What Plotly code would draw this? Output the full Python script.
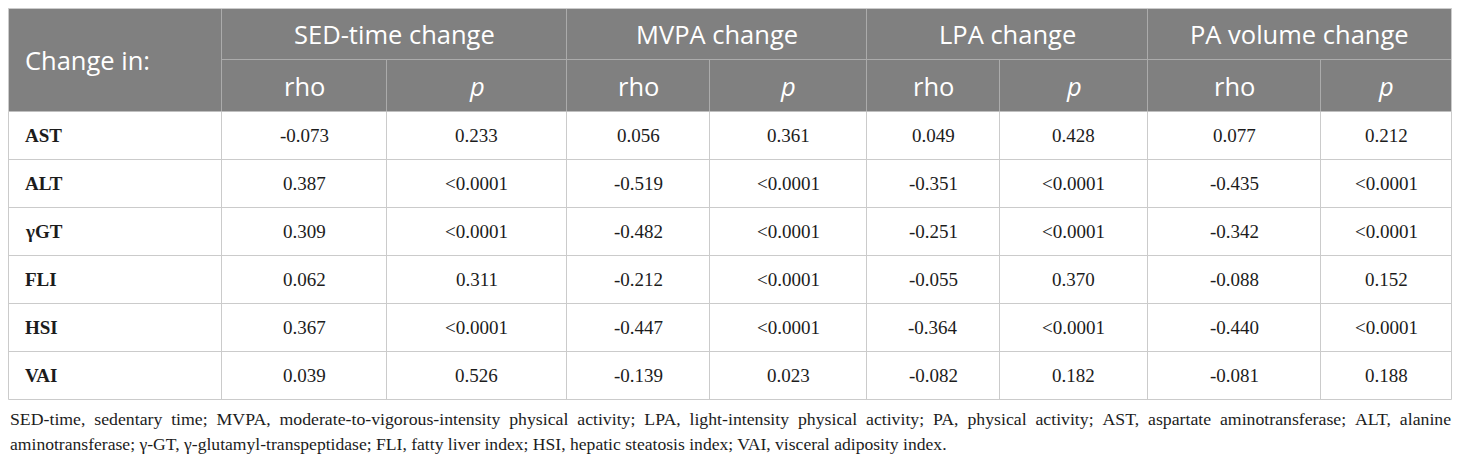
import plotly.graph_objects as go

# ---------------- data ----------------
row_labels = ["AST", "ALT", "γGT", "FLI", "HSI", "VAI"]
first_header = "Change in:"
groups = ["SED-time change", "MVPA change", "LPA change", "PA volume change"]
sub_labels = ["rho", "<i>p</i>"]

sed_rho = ["-0.073", "0.387", "0.309", "0.062", "0.367", "0.039"]
sed_p = ["0.233", "<0.0001", "<0.0001", "0.311", "<0.0001", "0.526"]
mvpa_rho = ["0.056", "-0.519", "-0.482", "-0.212", "-0.447", "-0.139"]
mvpa_p = ["0.361", "<0.0001", "<0.0001", "<0.0001", "<0.0001", "0.023"]
lpa_rho = ["0.049", "-0.351", "-0.251", "-0.055", "-0.364", "-0.082"]
lpa_p = ["0.428", "<0.0001", "<0.0001", "0.370", "<0.0001", "0.182"]
pa_rho = ["0.077", "-0.435", "-0.342", "-0.088", "-0.440", "-0.081"]
pa_p = ["0.212", "<0.0001", "<0.0001", "0.152", "<0.0001", "0.188"]

footnote_lines = [
    "SED-time, sedentary time; MVPA, moderate-to-vigorous-intensity physical activity; LPA, light-intensity physical activity; PA, physical activity; AST, aspartate aminotransferase; ALT, alanine",
    "aminotransferase; γ-GT, γ-glutamyl-transpeptidase; FLI, fatty liver index; HSI, hepatic steatosis index; VAI, visceral adiposity index.",
]

value_columns = [sed_rho, sed_p, mvpa_rho, mvpa_p, lpa_rho, lpa_p, pa_rho, pa_p]

# ---------------- layout geometry (figure pixels) ----------------
W, H = 1444, 447
x_start, y_start = 0.5, 0.5
col_widths = [213, 165, 180, 143, 157, 133, 148, 173, 131]
head_h = [51, 52]
row_h = 48
foot_y0, foot_dy = 411, 25
text_pad = 14.5

HEAD_BG = "#808080"
HEAD_LINE = "#ababab"
GRID = "#cbcbcb"
TEXT = "#1c1c1c"

col_edges = [x_start]
for w in col_widths:
    col_edges.append(col_edges[-1] + w)
x_end = col_edges[-1]
y_h1 = y_start + head_h[0]
y_h2 = y_h1 + head_h[1]
row_edges = [y_h2 + i * row_h for i in range(len(row_labels) + 1)]
y_end = row_edges[-1]

fig = go.Figure()
fig.add_trace(go.Scatter(x=[0, W], y=[0, H], mode="markers",
                         marker=dict(opacity=0), hoverinfo="skip", showlegend=False))

shapes = []
shapes.append(dict(type="rect", xref="x", yref="y", x0=x_start, x1=x_end, y0=y_start, y1=y_h2,
                   fillcolor=HEAD_BG, line=dict(width=0), layer="below"))
shapes.append(dict(type="line", xref="x", yref="y", x0=col_edges[1], x1=x_end, y0=y_h1, y1=y_h1,
                   line=dict(color=HEAD_LINE, width=1)))
for i, xe in enumerate(col_edges[1:-1], start=1):
    top = y_start if i % 2 == 1 else y_h1
    shapes.append(dict(type="line", xref="x", yref="y", x0=xe, x1=xe, y0=top, y1=y_h2,
                       line=dict(color=HEAD_LINE, width=1)))
shapes.append(dict(type="line", xref="x", yref="y", x0=x_start, x1=x_end, y0=y_start, y1=y_start,
                   line=dict(color=GRID, width=1)))
for ye in row_edges[1:]:
    shapes.append(dict(type="line", xref="x", yref="y", x0=x_start, x1=x_end, y0=ye, y1=ye,
                       line=dict(color=GRID, width=1)))
for xe in col_edges:
    shapes.append(dict(type="line", xref="x", yref="y", x0=xe, x1=xe, y0=y_h2, y1=y_end,
                       line=dict(color=GRID, width=1)))
for xe in (col_edges[0], col_edges[-1]):
    shapes.append(dict(type="line", xref="x", yref="y", x0=xe, x1=xe, y0=y_start, y1=y_h2,
                       line=dict(color=GRID, width=1)))

annotations = []
head_font = dict(family="Open Sans", size=25.5, color="white")
body_font = dict(family="Liberation Serif", size=19, color=TEXT)

annotations.append(dict(x=x_start + text_pad, y=(y_start + y_h2) / 2, text=first_header,
                        xanchor="left", yanchor="middle", showarrow=False, font=head_font))
for g, name in enumerate(groups):
    xa, xb = col_edges[1 + 2 * g], col_edges[3 + 2 * g]
    annotations.append(dict(x=(xa + xb) / 2, y=(y_start + y_h1) / 2, text=name,
                            xanchor="center", yanchor="middle", showarrow=False, font=head_font))
    for s, sub in enumerate(sub_labels):
        xa, xb = col_edges[1 + 2 * g + s], col_edges[2 + 2 * g + s]
        annotations.append(dict(x=(xa + xb) / 2, y=(y_h1 + y_h2) / 2, text=sub,
                                xanchor="center", yanchor="middle", showarrow=False, font=head_font))

for r, lab in enumerate(row_labels):
    yc = (row_edges[r] + row_edges[r + 1]) / 2
    annotations.append(dict(x=x_start + text_pad, y=yc, text="<b>" + lab + "</b>",
                            xanchor="left", yanchor="middle", showarrow=False, font=body_font))
    for c, col in enumerate(value_columns):
        xc = (col_edges[1 + c] + col_edges[2 + c]) / 2
        annotations.append(dict(x=xc, y=yc, text=col[r].replace("<", "&lt;"),
                                xanchor="center", yanchor="middle", showarrow=False, font=body_font))

# footnote: first line is justified in the source, emulate with wider word gaps
foot_sizes = [17.75, 17.6]
for i, line in enumerate(footnote_lines):
    txt = line.replace(" ", " \u00a0") if i == 0 else line
    annotations.append(dict(x=0, y=foot_y0 + i * foot_dy, text=txt, xanchor="left",
                            yanchor="middle", showarrow=False,
                            font=dict(family="Liberation Serif", size=foot_sizes[i], color=TEXT)))

fig.update_layout(
    width=W, height=H, margin=dict(l=0, r=0, t=0, b=0),
    paper_bgcolor="white", plot_bgcolor="white",
    xaxis=dict(range=[0, W], visible=False, fixedrange=True),
    yaxis=dict(range=[H, 0], visible=False, fixedrange=True),
    shapes=shapes, annotations=annotations, showlegend=False,
)

fig.write_html("out.html")
